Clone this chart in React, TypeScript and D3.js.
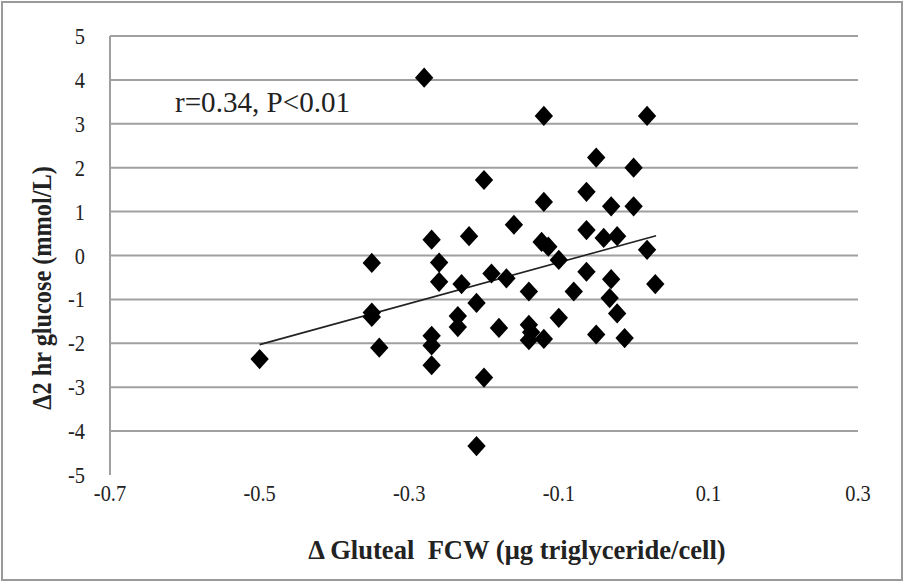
import React from "react";
import * as d3 from "d3";

const xValues: number[] = [
  -0.5, -0.35, -0.35, -0.35, -0.34, -0.28, -0.27, -0.26, -0.26, -0.27, -0.27, -0.27,
  -0.22, -0.23, -0.21, -0.235, -0.235, -0.2, -0.21, -0.2, -0.16, -0.19, -0.17, -0.18,
  -0.14, -0.14, -0.137, -0.14, -0.12, -0.12, -0.12, -0.123, -0.114, -0.1, -0.1, -0.08,
  -0.063, -0.063, -0.063, -0.05, -0.05, -0.04, -0.03, -0.022, -0.03, -0.032, -0.022,
  -0.012, 0.0, 0.0, 0.018, 0.018, 0.029,
];
const yValues: number[] = [
  -2.36, -0.17, -1.3, -1.4, -2.1, 4.05, 0.36, -0.16, -0.6, -1.83, -2.05, -2.5,
  0.44, -0.65, -1.08, -1.38, -1.63, -2.78, -4.34, 1.72, 0.7, -0.41, -0.52, -1.65,
  -0.82, -1.58, -1.75, -1.93, -1.9, 3.18, 1.22, 0.31, 0.2, -0.1, -1.42, -0.82,
  1.45, 0.58, -0.37, 2.23, -1.8, 0.4, 1.12, 0.44, -0.54, -0.97, -1.32,
  -1.88, 2.0, 1.12, 3.18, 0.13, -0.65,
];
const xTicks: number[] = [-0.7, -0.5, -0.3, -0.1, 0.1, 0.3];
const yTicks: number[] = [5, 4, 3, 2, 1, 0, -1, -2, -3, -4, -5];
const trendX: number[] = [-0.5, 0.03];
const trendY: number[] = [-2.03, 0.45];
const annotation = "r=0.34, P<0.01";
const xTitle = "\u0394 Gluteal  FCW (\u03bcg triglyceride/cell)";
const yTitle = "\u03942 hr glucose (mmol/L)";

export default function App() {
  const W = 904;
  const H = 582;
  const left = 110;
  const right = 858;
  const top = 36;
  const bottom = 475;
  const x = d3.scaleLinear().domain([-0.7, 0.3]).range([left, right]);
  const y = d3.scaleLinear().domain([-5, 5]).range([bottom, top]);
  const font = "Liberation Serif, Times New Roman, Times, serif";
  const gridColor = "#a0a0a0";
  const diamond = d3.symbol().type(d3.symbolDiamond2).size(215)() as string;
  const line = d3
    .line<number>()
    .x((d) => x(d))
    .y((_, i) => y(trendY[i]));
  const fmtX = (v: number) => (v < 0 ? "-" : "") + Math.abs(v).toFixed(1);
  const txt = { fontFamily: font } as React.CSSProperties;

  return (
    <svg
      width={W}
      height={H}
      style={{ position: "fixed", left: 0, top: 0, background: "#fff", fontFamily: font }}
    >
      <rect x={0} y={0} width={W} height={H} fill="#fff" />
      <rect x={2} y={2} width={W - 4} height={H - 4} fill="none" stroke="#9a9a9a" strokeWidth={2} />
      {yTicks
        .filter((t) => t !== -5)
        .map((t) => (
          <line key={"g" + t} x1={left} x2={right} y1={y(t)} y2={y(t)} stroke={gridColor} strokeWidth={2} />
        ))}
      <line x1={left} x2={left} y1={top} y2={bottom} stroke={gridColor} strokeWidth={2} />
      {yTicks.map((t) => (
        <text
          key={"yl" + t}
          transform={`translate(85,${y(t) + 8}) scale(0.85,1)`}
          textAnchor="end"
          style={txt}
          fontSize={24}
          fill="#222"
        >
          {t < 0 ? "-" + Math.abs(t) : String(t)}
        </text>
      ))}
      {xTicks.map((t) => (
        <text
          key={"xl" + t}
          transform={`translate(${x(t)},501) scale(0.85,1)`}
          textAnchor="middle"
          style={txt}
          fontSize={24}
          fill="#222"
        >
          {fmtX(t)}
        </text>
      ))}
      <path d={line(trendX) || ""} stroke="#222" strokeWidth={1.6} fill="none" />
      {xValues.map((v, i) => (
        <path
          key={"p" + i}
          d={diamond}
          transform={`translate(${x(v)},${y(yValues[i])}) scale(1,1.1)`}
          fill="#000"
        />
      ))}
      <text
        transform="translate(175,112) scale(0.97,1)"
        style={txt}
        fontSize={30}
        fill="#222"
      >
        {annotation}
      </text>
      <text
        transform="translate(517,559) scale(0.95,1)"
        textAnchor="middle"
        style={{ ...txt, whiteSpace: "pre" }}
        fontSize={28}
        fontWeight="bold"
        fill="#222"
      >
        {xTitle}
      </text>
      <text
        transform={`translate(51, 288) rotate(-90) scale(0.9,1)`}
        textAnchor="middle"
        style={txt}
        fontSize={27}
        fontWeight="bold"
        fill="#222"
      >
        {yTitle}
      </text>
    </svg>
  );
}
